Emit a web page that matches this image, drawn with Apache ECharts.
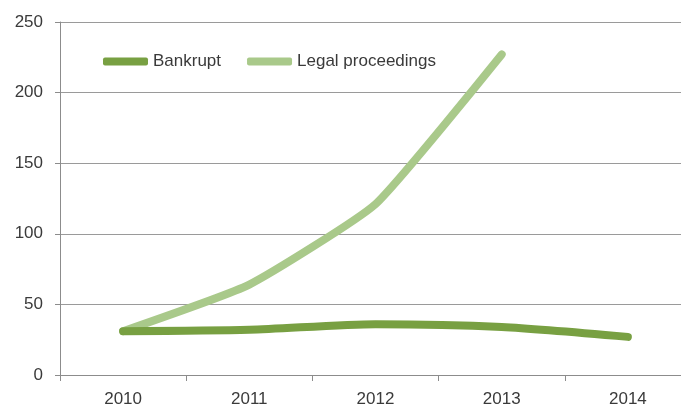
<!DOCTYPE html>
<html>
<head>
<meta charset="utf-8">
<script src="https://cdn.jsdelivr.net/npm/echarts@6/dist/echarts.min.js"></script>
<style>
  html, body { margin: 0; padding: 0; background: #fff; }
  #chart { width: 681px; height: 408px; }
</style>
</head>
<body>
<div id="chart"></div>
<script>
const years = ['2010', '2011', '2012', '2013', '2014'];
const bankrupt = [31, 32, 36, 34, 27];
const legalProceedings = [31, 64, 121, 227, null];
const yTicks = { min: 0, max: 250, interval: 50 };

const chart = echarts.init(document.getElementById('chart'));

chart.setOption({
  animation: false,
  backgroundColor: '#fff',
  textStyle: { fontFamily: 'Liberation Sans, Arial, sans-serif' },
  legend: {
    left: 98,
    top: 48,
    itemWidth: 45,
    itemHeight: 8,
    itemGap: 26,
    textStyle: { color: '#3a3a3a', fontSize: 17 },
    data: [
      { name: 'Bankrupt', icon: 'roundRect' },
      { name: 'Legal proceedings', icon: 'roundRect' },
    ],
  },
  // the plot runs a little past the right edge of the picture
  grid: {
    left: 60,
    right: -10,
    top: 22,
    bottom: 33,
    outerBoundsMode: 'none',
  },
  xAxis: {
    type: 'category',
    data: years,
    boundaryGap: true,
    axisLine: { lineStyle: { color: '#8c8c8c' } },
    axisTick: { show: true, length: 6, lineStyle: { color: '#8c8c8c' } },
    axisLabel: { color: '#3a3a3a', fontSize: 17, margin: 16 },
  },
  yAxis: {
    type: 'value',
    min: yTicks.min,
    max: yTicks.max,
    interval: yTicks.interval,
    axisLine: { show: true, lineStyle: { color: '#8c8c8c' } },
    axisTick: { show: true, length: 5, lineStyle: { color: '#8c8c8c' } },
    axisLabel: { color: '#3a3a3a', fontSize: 17, margin: 17 },
    splitLine: { lineStyle: { color: '#9a9a9a', width: 1 } },
  },
  series: [
    {
      name: 'Bankrupt',
      type: 'line',
      data: bankrupt,
      smooth: 0.25,
      symbol: 'none',
      color: '#78a042',
      lineStyle: { width: 8, color: '#78a042', cap: 'round', join: 'round' },
      z: 3,
    },
    {
      name: 'Legal proceedings',
      type: 'line',
      data: legalProceedings,
      smooth: 0.15,
      symbol: 'none',
      color: '#a9c98a',
      lineStyle: { width: 8, color: '#a9c98a', cap: 'round', join: 'round' },
      z: 2,
    },
  ],
});
</script>
</body>
</html>
